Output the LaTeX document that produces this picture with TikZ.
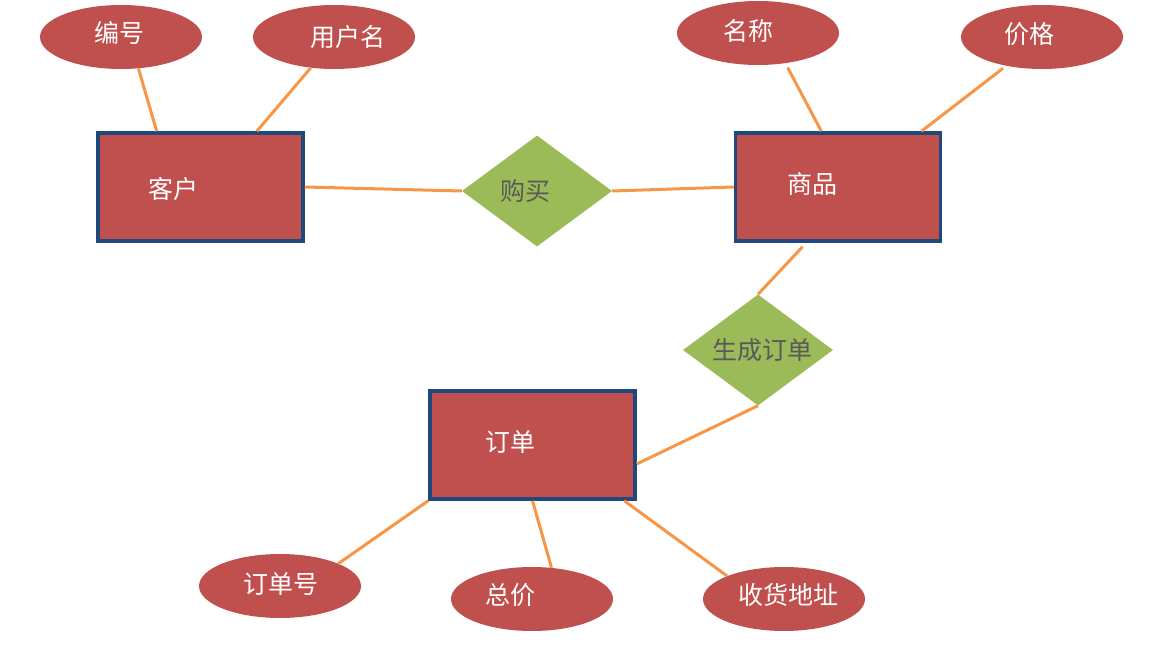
\documentclass[tikz,border=0pt]{standalone}
\usepackage{fontspec}
\setmainfont{Noto Sans CJK SC}
\usetikzlibrary{shapes.geometric,calc}
\definecolor{erred}{HTML}{C0504D}
\definecolor{erblue}{HTML}{1F497D}
\definecolor{ergreen}{HTML}{9BBB59}
\definecolor{erorange}{HTML}{F79646}
\definecolor{ergray}{HTML}{595959}
\begin{document}
\begin{tikzpicture}[x=1pt,y=-1pt,
  ent/.style={rectangle,draw=erblue,line width=3.5pt,fill=erred,minimum width=205pt,minimum height=108pt,inner sep=0pt},
  attr/.style={ellipse,fill=erred,minimum width=162pt,minimum height=64pt,inner sep=0pt},
  rel/.style={diamond,fill=ergreen,minimum width=150pt,minimum height=111pt,inner sep=0pt,aspect=1.35},
  wtxt/.style={text=white,font=\fontsize{25}{25}\selectfont,inner sep=0pt},
  gtxt/.style={text=ergray,font=\fontsize{25}{25}\selectfont,inner sep=0pt},
  conn/.style={draw=erorange,line width=3pt}]
\useasboundingbox (0,0) rectangle (1174,668);
% entities
\node[ent,label={[wtxt,xshift=-27pt,yshift=-2pt]center:客户}] (kh) at (200.5,187) {};
\node[ent,label={[wtxt,xshift=-26pt,yshift=3pt]center:商品}] (sp) at (838,187) {};
\node[ent,label={[wtxt,xshift=-22pt,yshift=3pt]center:订单}] (dd) at (532.5,445) {};
% relationships
\node[rel,label={[gtxt,xshift=-12pt,yshift=0pt]center:购买}] (gm) at (537,191) {};
\node[rel,label={[gtxt,xshift=4pt,yshift=0pt]center:生成订单}] (sc) at (758,350) {};
% attributes
\node[attr,label={[wtxt,xshift=-2pt,yshift=4pt]center:编号}] (e1) at (121,37) {};
\node[attr,label={[wtxt,xshift=14pt,yshift=0pt]center:用户名}] (e2) at (334,37) {};
\node[attr,label={[wtxt,xshift=-10pt,yshift=2pt]center:名称}] (e3) at (758,33) {};
\node[attr,label={[wtxt,xshift=-13pt,yshift=3pt]center:价格}] (e4) at (1042,37) {};
\node[attr,label={[wtxt,xshift=1pt,yshift=2pt]center:订单号}] (e5) at (280,586) {};
\node[attr,label={[wtxt,xshift=-22pt,yshift=4pt]center:总价}] (e6) at (532,599) {};
\node[attr,label={[wtxt,xshift=4pt,yshift=4pt]center:收货地址}] (e7) at (784,599) {};
% connectors
\draw[conn] (e1.-61) -- ($(kh.north west)!0.29!(kh.north east)$);
\draw[conn] (e2.-127) -- ($(kh.north west)!0.77!(kh.north east)$);
\draw[conn] ($(e3.-50)+(4,4)$) -- ($(sp.north west)!0.42!(sp.north east)$);
\draw[conn] ($(e4.-144)+(0,3)$) -- ($(sp.north west)!0.90!(sp.north east)$);
\draw[conn] (kh.east) -- (gm.west);
\draw[conn] (gm.east) -- (sp.west);
\draw[conn] ($(sp.south west)!0.33!(sp.south east)+(0,4)$) -- (sc.north);
\draw[conn] (sc.south) -- ($(dd.east)+(0,19)$);
\draw[conn] (dd.south west) -- (e5.21);
\draw[conn] (dd.south) -- (e6.58);
\draw[conn] ($(dd.south west)!0.94!(dd.south east)$) -- (e7.158);
\end{tikzpicture}
\end{document}
